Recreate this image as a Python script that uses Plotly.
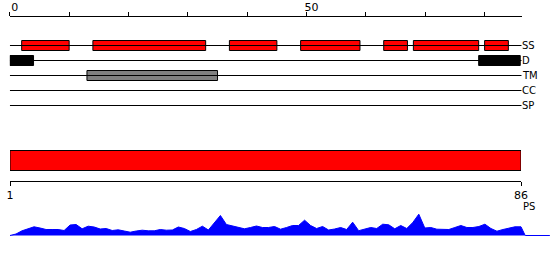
import plotly.graph_objects as go

# ---------------- data ----------------
seq_len = 86
track_names = ["SS", "D", "TM", "CC", "SP"]

ss_starts = [2, 14, 37, 49, 63, 68, 80]
ss_ends = [10, 33, 45, 59, 67, 79, 84]
d_starts = [0, 79]
d_ends = [4, 86]
tm_starts = [13]
tm_ends = [35]

top_tick_labels = [0, 50]
bottom_tick_labels = [1, 86]

profile = [0, 1.5, 4.7, 6.5, 8.7, 7.5, 6, 6, 6, 5,
           10.5, 11, 6.7, 9.3, 8.5, 6.5, 7, 5, 5.7, 4.5,
           3.3, 4.5, 5.3, 4.7, 4.7, 6, 5.3, 5.5, 8.5, 7,
           4, 6, 9.3, 5.5, 13, 20, 11, 9.5, 8.5, 6.7,
           8, 9.5, 8, 8, 9, 6.3, 8, 10, 10, 15.3,
           10, 7, 9, 5.5, 6.5, 8, 6, 13.3, 4.8, 6.5,
           8, 7, 11.3, 10.7, 6.7, 10, 7, 13, 21.3, 7.5,
           8, 6.3, 6, 6, 8, 10, 8, 8, 9, 11.3,
           7, 4.3, 6, 7.5, 8.7, 8.7]
profile_pos = list(range(1, seq_len + 1))
profile_tail_pos = [86.7, 90.8]
profile_tail_val = [0, 0]

# ---------------- layout constants ----------------
W, H = 550, 260
top_end = 86.25
track_y = [45.5, 60.5, 75.5, 90.5, 105.5]
FONT = "DejaVu Sans"

fig = go.Figure()

# profile area (drawn first, bottom layer)
fig.add_trace(go.Scatter(x=profile_pos + profile_tail_pos, y=profile + profile_tail_val,
                         mode="lines", fill="tozeroy", fillcolor="#0000ff",
                         line=dict(color="#0000ff", width=1),
                         xaxis="x3", yaxis="y2", hoverinfo="skip"))

# track lines
for ty in track_y:
    fig.add_trace(go.Scatter(x=[0, top_end], y=[ty, ty], mode="lines",
                             line=dict(color="black", width=1),
                             xaxis="x", yaxis="y", hoverinfo="skip"))

def boxes(starts, ends, ty, color, h):
    return go.Bar(orientation="h", base=starts,
                  x=[e - s for s, e in zip(starts, ends)],
                  y=[ty] * len(starts), width=h,
                  marker=dict(color=color, line=dict(color="black", width=1)),
                  xaxis="x", yaxis="y", cliponaxis=False)

fig.add_trace(boxes(ss_starts, ss_ends, track_y[0], "#ff0000", 10))
fig.add_trace(boxes(d_starts, d_ends, track_y[1], "#000000", 10))
fig.add_trace(boxes(tm_starts, tm_ends, track_y[2], "#808080", 10))

# whole-sequence bar
fig.add_trace(go.Bar(orientation="h", base=[1], x=[seq_len - 1], y=[160.5], width=20,
                     marker=dict(color="#ff0000", line=dict(color="black", width=1)),
                     xaxis="x2", yaxis="y", cliponaxis=False))

annotations = []
for name, ty in zip(track_names, track_y):
    annotations.append(dict(x=top_end, y=ty, xref="x", yref="y", text=name,
                            showarrow=False, xanchor="left", yanchor="middle",
                            xshift=-2,
                            font=dict(family=FONT, size=10, color="black")))
annotations.append(dict(x=seq_len, y=206.5, xref="x2", yref="y", text="PS",
                        showarrow=False, xanchor="left", yanchor="middle", xshift=0,
                        font=dict(family=FONT, size=10, color="black")))

scale2 = (521 - 10) / (seq_len - 1)

fig.update_layout(
    width=W, height=H,
    margin=dict(l=0, r=0, t=0, b=0, pad=0, autoexpand=False),
    paper_bgcolor="white", plot_bgcolor="rgba(0,0,0,0)", showlegend=False,
    barmode="overlay",
    annotations=annotations,
    xaxis=dict(domain=[9.8 / W, 521.7 / W], range=[0, top_end], anchor="free",
               position=1 - 15.5 / H, side="top", showline=True, linecolor="black",
               linewidth=1, ticks="outside", ticklen=4, tickcolor="black",
               tickvals=top_tick_labels, ticktext=[str(v) for v in top_tick_labels],
               minor=dict(dtick=10, tick0=0, ticks="outside", ticklen=4,
                          tickcolor="black", showgrid=False),
               showgrid=False, zeroline=False, ticklabelshift=5,
               ticklabelstandoff=-4, automargin=False,
               tickfont=dict(family=FONT, size=11, color="black")),
    xaxis2=dict(domain=[10 / W, 521 / W], range=[1, seq_len], anchor="free",
                position=1 - 180.5 / H, side="bottom", showline=True,
                linecolor="black", linewidth=1, ticks="outside", ticklen=4,
                tickcolor="black", tickvals=bottom_tick_labels,
                ticktext=[str(v) for v in bottom_tick_labels], automargin=False,
                showgrid=False, zeroline=False,
                tickfont=dict(family=FONT, size=11, color="black")),
    xaxis3=dict(domain=[0, 1], range=[1 - 10 / scale2, 1 + 540 / scale2],
                anchor="y2", visible=False),
    yaxis=dict(domain=[0, 1], range=[H, 0], visible=False, anchor="x"),
    yaxis2=dict(domain=[0, 1], range=[-24.5, 235.5], visible=False, anchor="x3"),
)

fig.write_html("out.html")
